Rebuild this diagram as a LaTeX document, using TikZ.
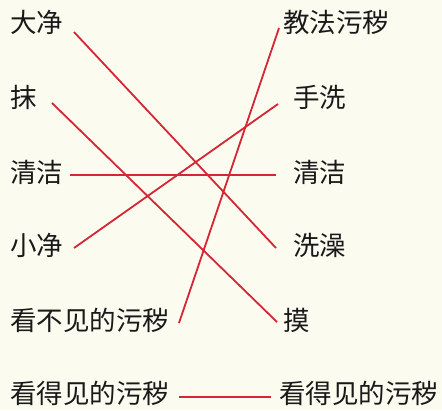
\documentclass[tikz,border=0pt]{standalone}
\usepackage{fontspec}
\newfontfamily\cjk{Noto Sans CJK SC}
\definecolor{bg}{RGB}{251,251,240}
\definecolor{ln}{RGB}{212,38,52}
\definecolor{tx}{RGB}{25,25,25}
\begin{document}
\begin{tikzpicture}[x=1pt,y=-1pt,
  lbl/.style={anchor=west,inner sep=0pt,outer sep=0pt,text=tx,
    font=\cjk\fontsize{26.5}{26.5}\selectfont,text height=0.88em,text depth=0.12em},
  link/.style={draw=ln,line width=1.8pt}]
\fill[bg] (0,0) rectangle (442,410);
\useasboundingbox (0,0) rectangle (442,410);
% left column
\node[lbl] (L1) at (10,29) {大净};
\node[lbl] (L2) at (10,104) {抹};
\node[lbl] (L3) at (10,179) {清洁};
\node[lbl] (L4) at (10,252) {小净};
\node[lbl] (L5) at (10,327) {看不见的污秽};
\node[lbl] (L6) at (10,400) {看得见的污秽};
% right column
\node[lbl] (R1) at (283,29) {教法污秽};
\node[lbl] (R2) at (293,104) {手洗};
\node[lbl] (R3) at (293,179) {清洁};
\node[lbl] (R4) at (293,252) {洗澡};
\node[lbl] (R5) at (283,327) {摸};
\node[lbl] (R6) at (279,400) {看得见的污秽};
% connector ports
\coordinate (pL1) at (74,32);
\coordinate (pL2) at (52,103);
\coordinate (pL3) at (70,175);
\coordinate (pL4) at (74,248);
\coordinate (pL5) at (179,323);
\coordinate (pL6) at (179,397);
\coordinate (pR1) at (279,28);
\coordinate (pR2) at (278,104);
\coordinate (pR3) at (276,175);
\coordinate (pR4) at (276,248);
\coordinate (pR5) at (277,322);
\coordinate (pR6) at (271,397);
\draw[link] (pL1) -- (pR4);
\draw[link] (pL2) -- (pR5);
\draw[link] (pL3) -- (pR3);
\draw[link] (pL4) -- (pR2);
\draw[link] (pL5) -- (pR1);
\draw[link] (pL6) -- (pR6);
\end{tikzpicture}
\end{document}
